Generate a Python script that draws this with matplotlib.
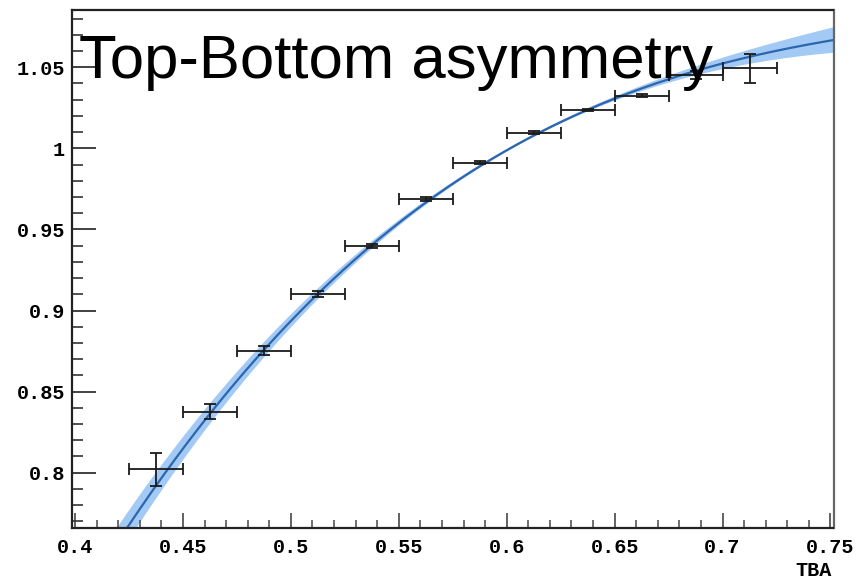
import numpy as np
import matplotlib
matplotlib.use("Agg")
import matplotlib.pyplot as plt
from matplotlib.ticker import MultipleLocator, FixedFormatter, FixedLocator

# Measured points: bin centres in TBA, mean value and uncertainties
tba = [0.4375, 0.4625, 0.4875, 0.5125, 0.5375, 0.5625,
       0.5875, 0.6125, 0.6375, 0.6625, 0.6875, 0.7125]
value = [0.8022, 0.8377, 0.8753, 0.9102, 0.9398, 0.9688,
         0.9910, 1.0097, 1.0237, 1.0325, 1.0450, 1.0494]
value_err = [0.0102, 0.0047, 0.0030, 0.0020, 0.0014, 0.0010,
             0.0009, 0.0007, 0.0007, 0.0008, 0.0025, 0.0090]
tba_err = [0.0125] * len(tba)

# Fit model: cubic polynomial in (x - x_ref)
fit_ref = 0.5875
fit_params = [0.9889, 0.8243, -2.719, 3.59]
# Fit uncertainty band: s0 + s2*d^2 + s3*d^3 with d = x - xc
band_params = [0.61, 0.0008, 0.3036, 0.3459]

x_ticks = [0.40, 0.45, 0.50, 0.55, 0.60, 0.65, 0.70, 0.75]
x_tick_labels = ["0.4", "0.45", "0.5", "0.55", "0.6", "0.65", "0.7", "0.75"]
y_ticks = [0.80, 0.85, 0.90, 0.95, 1.00, 1.05]
y_tick_labels = ["0.8", "0.85", "0.9", "0.95", "1", "1.05"]


def fit_func(x, p):
    t = x - fit_ref
    return p[0] + p[1] * t + p[2] * t ** 2 + p[3] * t ** 3


def fit_sigma(x, b):
    d = x - b[0]
    return b[1] + b[2] * d ** 2 + b[3] * d ** 3


fig = plt.figure(figsize=(8.57, 5.79), dpi=100)
ax = fig.add_axes([72 / 857, 51 / 579, 761.5 / 857, 518 / 579])

xlo, xhi = 0.3986, 0.7514
ax.set_xlim(xlo, xhi)
ax.set_ylim(0.7659, 1.0853)

xs = np.linspace(xlo, xhi, 400)
ys = fit_func(xs, fit_params)
sig = fit_sigma(xs, band_params)
ax.fill_between(xs, ys - sig, ys + sig, color="#a3c9f5", lw=0, zorder=1)
ax.plot(xs, ys, color="#2c66ad", lw=1.6, zorder=2)

ax.errorbar(tba, value, xerr=tba_err, yerr=value_err, fmt="none",
            ecolor="#1a1a1a", elinewidth=1.3, capsize=4, capthick=1.3,
            zorder=3)

ax.text(0.4020, 1.0435, "Top-Bottom asymmetry", fontsize=44.4,
        family="Liberation Sans", color="black", zorder=5)

tick_font = dict(family="Liberation Mono", weight="bold", size=14.5)
ax.xaxis.set_major_locator(FixedLocator(x_ticks))
ax.xaxis.set_major_formatter(FixedFormatter(x_tick_labels))
ax.xaxis.set_minor_locator(MultipleLocator(0.01))
ax.yaxis.set_major_locator(FixedLocator(y_ticks))
ax.yaxis.set_major_formatter(FixedFormatter(y_tick_labels))
ax.yaxis.set_minor_locator(MultipleLocator(0.01))
for lab in ax.get_xticklabels() + ax.get_yticklabels():
    lab.set_fontfamily(tick_font["family"])
    lab.set_fontweight(tick_font["weight"])
    lab.set_fontsize(tick_font["size"])

ax.tick_params(axis="x", which="major", direction="in", length=11,
               width=1.3, color="#555555", top=False, pad=7)
ax.tick_params(axis="x", which="minor", direction="in", length=5.5,
               width=1.2, color="#555555", top=False)
ax.tick_params(axis="y", which="major", direction="in", length=17,
               width=1.3, color="#333333", right=False, pad=5)
ax.tick_params(axis="y", which="minor", direction="in", length=8,
               width=1.2, color="#333333", right=False)

for side in ("left", "bottom", "top"):
    ax.spines[side].set_linewidth(1.6)
    ax.spines[side].set_color("#222222")
ax.spines["right"].set_linewidth(1.6)
ax.spines["right"].set_color("#666666")

fig.text(832 / 857, 2.5 / 579, "TBA", family="Liberation Mono",
         weight="bold", fontsize=14.5, ha="right", va="baseline")

fig.savefig("out.png", dpi=100)
